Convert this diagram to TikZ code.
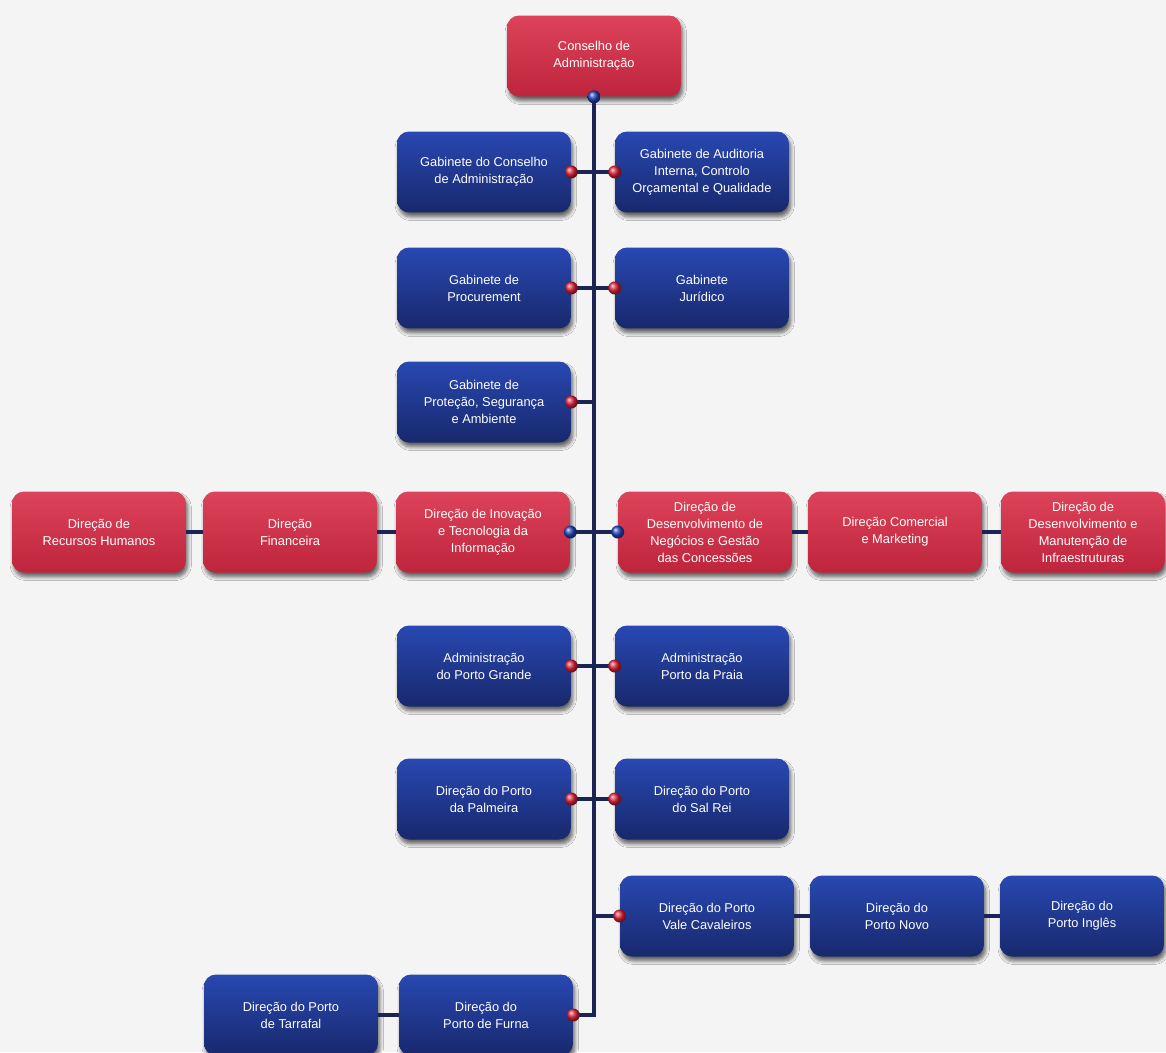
\documentclass[tikz,border=0pt]{standalone}
\usepackage{fontspec}
\setmainfont{Liberation Sans}
\usepackage{tikz}
\usetikzlibrary{positioning, calc, shadows.blur}

\definecolor{orgred}{RGB}{216,42,68}
\definecolor{orgbluetop}{RGB}{40,72,178}
\definecolor{orgbluebot}{RGB}{24,40,108}
\definecolor{orgnavy}{RGB}{28,36,84}
\definecolor{pontored}{RGB}{228,36,58}
\definecolor{pontoblue}{RGB}{36,70,190}
\definecolor{fundo}{RGB}{244,244,244}

\begin{document}
\begin{tikzpicture}[
    x=0.02cm, y=-0.02cm,
    unidade/.style={rounded corners=0.24cm, minimum width=3.48cm, minimum height=1.62cm, align=center, text=white, inner sep=2pt, font=\fontsize{7.3}{9.7}\selectfont, blur shadow={shadow xshift=1pt, shadow yshift=-2.5pt, shadow blur steps=6, shadow opacity=60}},
    vermelho/.style={unidade, top color=orgred!88!white, bottom color=orgred!88!black},
    azul/.style={unidade, top color=orgbluetop, bottom color=orgbluebot},
    estreito/.style={minimum width=3.28cm},
    ligacao/.style={line width=2.6pt, draw=orgnavy},
    pontov/.style={ball color=pontored},
    pontoa/.style={ball color=pontoblue},
]
    \useasboundingbox (0,0) rectangle (1166,1052);
    \clip (0,0) rectangle (1166,1052);
    \fill[fundo] (0,0) rectangle (1166,1052);

    % Topo
    \node[vermelho] (cons) at (594,56) {Conselho de\\Administração};

    % Gabinetes
    \node[azul] (gcons) at (484,172) {Gabinete do Conselho\\de Administração};
    \node[azul] (gaud) at (702,172) {Gabinete de Auditoria\\Interna, Controlo\\Orçamental e Qualidade};
    \node[azul] (proc) at (484,288) {Gabinete de\\Procurement};
    \node[azul] (jur) at (702,288) {Gabinete\\Jurídico};
    \node[azul] (prot) at (484,402) {Gabinete de\\Proteção, Segurança\\e Ambiente};

    % Direções
    \node[vermelho] (rh) at (99,532) {Direção de\\Recursos Humanos};
    \node[vermelho] (fin) at (290,532) {Direção\\Financeira};
    \node[vermelho] (inov) at (483,532) {Direção de Inovação\\e Tecnologia da\\Informação};
    \node[vermelho] (desn) at (705,532) {Direção de\\Desenvolvimento de\\Negócios e Gestão\\das Concessões};
    \node[vermelho] (com) at (895,532) {Direção Comercial\\e Marketing};
    \node[vermelho, estreito] (infra) at (1083,532) {Direção de\\Desenvolvimento e\\Manutenção de\\Infraestruturas};

    % Portos
    \node[azul] (apg) at (484,666) {Administração\\do Porto Grande};
    \node[azul] (apr) at (702,666) {Administração\\Porto da Praia};
    \node[azul] (palm) at (484,799) {Direção do Porto\\da Palmeira};
    \node[azul] (salr) at (702,799) {Direção do Porto\\do Sal Rei};
    \node[azul] (vale) at (707,916) {Direção do Porto\\Vale Cavaleiros};
    \node[azul] (novo) at (897,916) {Direção do\\Porto Novo};
    \node[azul, estreito] (ingl) at (1082,916) {Direção do\\Porto Inglês};
    \node[azul] (tarr) at (291,1015) {Direção do Porto\\de Tarrafal};
    \node[azul] (furna) at (486,1015) {Direção do\\Porto de Furna};

    % Eixo
    \draw[ligacao] (cons.south) -- (cons.south |- furna.east) -- (furna.east);

    % Ligações
    \draw[ligacao] (gcons.east) -- (gaud.west);
    \draw[ligacao] (proc.east) -- (jur.west);
    \draw[ligacao] (prot.east) -- (prot.east -| cons.south);
    \draw[ligacao] (rh.east) -- (fin.west);
    \draw[ligacao] (fin.east) -- (inov.west);
    \draw[ligacao] (inov.east) -- (desn.west);
    \draw[ligacao] (desn.east) -- (com.west);
    \draw[ligacao] (com.east) -- (infra.west);
    \draw[ligacao] (apg.east) -- (apr.west);
    \draw[ligacao] (palm.east) -- (salr.west);
    \draw[ligacao] (vale.west) -- (vale.west -| cons.south);
    \draw[ligacao] (vale.east) -- (novo.west);
    \draw[ligacao] (novo.east) -- (ingl.west);
    \draw[ligacao] (tarr.east) -- (furna.west);

    % Pontos
    \foreach \p in {gcons.east, gaud.west, proc.east, jur.west, prot.east, apg.east, apr.west, palm.east, salr.west, vale.west, furna.east}
        \shade[pontov] (\p) circle (0.13cm);
    \foreach \p in {cons.south, inov.east, desn.west}
        \shade[pontoa] (\p) circle (0.13cm);
\end{tikzpicture}
\end{document}
